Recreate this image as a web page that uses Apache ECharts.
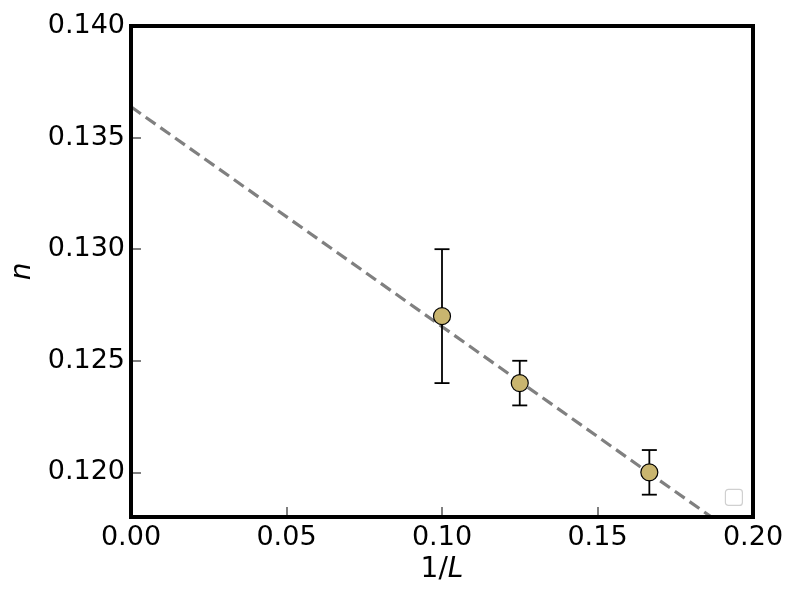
<!DOCTYPE html>
<html>
<head>
<meta charset="utf-8">
<script src="https://cdn.jsdelivr.net/npm/echarts@6/dist/echarts.min.js"></script>
<style>html,body{margin:0;padding:0;background:#fff}#c{width:800px;height:600px}</style>
</head>
<body>
<div id="c"></div>
<script>
// Data
const invL = [0.1, 0.125, 0.16667];
const nValues = [0.127, 0.124, 0.120];
const nLower = [0.124, 0.123, 0.119];
const nUpper = [0.130, 0.125, 0.121];
const fitX = [0, 0.2];
const fitY = [0.13638, 0.11668];
const xTicks = [0, 0.05, 0.1, 0.15, 0.2];
const yTicks = [0.120, 0.125, 0.130, 0.135, 0.140];

const chart = echarts.init(document.getElementById('c'), null, {renderer: 'canvas'});
const FONT = 'DejaVu Sans';

const errData = invL.map((x, i) => [x, nLower[i], nUpper[i]]);
const ptData = invL.map((x, i) => [x, nValues[i]]);
const fitData = fitX.map((x, i) => [x, fitY[i]]);

chart.setOption({
  animation: false,
  backgroundColor: '#fff',
  grid: {left: 131, right: 47, top: 26, bottom: 83, show: true, borderColor: '#000', borderWidth: 4, backgroundColor: 'transparent', z: 10, outerBoundsMode: 'none', containLabel: false},
  xAxis: {
    type: 'value', min: 0, max: 0.2,
    axisLine: {show: false},
    splitLine: {show: false},
    axisTick: {show: true, inside: true, length: 10, lineStyle: {color: '#808080', width: 2}, customValues: xTicks},
    axisLabel: {fontFamily: FONT, fontSize: 27, color: '#000', margin: 7, customValues: xTicks, formatter: v => v.toFixed(2)},
    name: '{a|1/}{b|L}', nameLocation: 'middle', nameGap: 37,
    nameTextStyle: {rich: {a: {fontFamily: FONT, fontSize: 28, color: '#000'}, b: {fontFamily: FONT, fontSize: 28, fontStyle: 'italic', color: '#000'}}}
  },
  yAxis: {
    type: 'value', min: 0.118, max: 0.140,
    axisLine: {show: false},
    splitLine: {show: false},
    axisTick: {show: true, inside: true, length: 10, lineStyle: {color: '#808080', width: 2}, customValues: yTicks},
    axisLabel: {fontFamily: FONT, fontSize: 27, color: '#000', margin: 6, customValues: yTicks, formatter: v => v.toFixed(3)},
    name: 'n', nameLocation: 'middle', nameGap: 90,
    nameTextStyle: {fontFamily: FONT, fontSize: 28, fontStyle: 'italic', color: '#000'}
  },
  series: [
    {
      type: 'line', data: fitData, symbol: 'none', clip: true,
      lineStyle: {color: '#808080', width: 3.2, type: [12, 6]}, z: 1
    },
    {
      type: 'custom', data: errData, z: 2, clip: true,
      renderItem: function (params, api) {
        const x = api.value(0);
        const lo = api.coord([x, api.value(1)]);
        const hi = api.coord([x, api.value(2)]);
        const cap = 7.5;
        const style = {stroke: '#000', lineWidth: 1.8};
        return {
          type: 'group',
          children: [
            {type: 'line', shape: {x1: lo[0], y1: lo[1], x2: hi[0], y2: hi[1]}, style},
            {type: 'line', shape: {x1: lo[0] - cap, y1: lo[1], x2: lo[0] + cap, y2: lo[1]}, style},
            {type: 'line', shape: {x1: hi[0] - cap, y1: hi[1], x2: hi[0] + cap, y2: hi[1]}, style}
          ]
        };
      }
    },
    {
      type: 'scatter', data: ptData, symbol: 'circle', symbolSize: 17, z: 3,
      itemStyle: {color: '#C9B56F', borderColor: '#000', borderWidth: 1.2, opacity: 1}
    }
  ],
  graphic: [
    {type: 'rect', right: 57, bottom: 94, shape: {width: 17, height: 16, r: 3}, style: {fill: '#fff', stroke: '#d0d0d0', lineWidth: 1.2}, z: 20}
  ]
});
</script>
</body>
</html>
